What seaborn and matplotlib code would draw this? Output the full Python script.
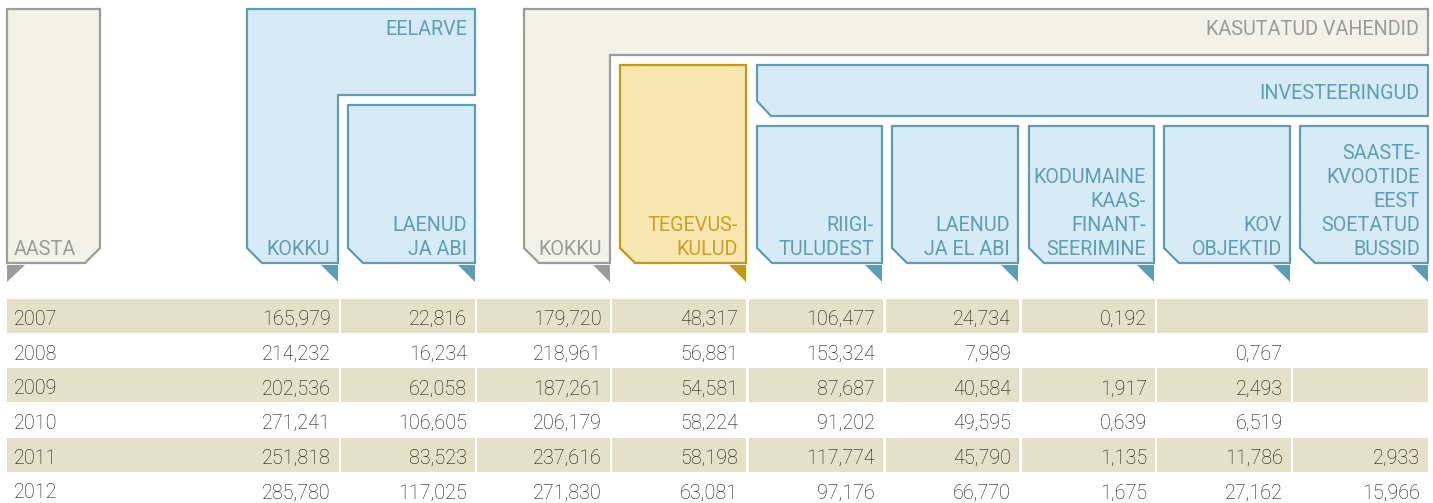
import matplotlib
matplotlib.use("Agg")
import matplotlib.pyplot as plt
from matplotlib.patches import Polygon
import seaborn as sns
import numpy as np

# ---------------- data ----------------
years = [2007, 2008, 2009, 2010, 2011, 2012]
eelarve_kokku = [165.979, 214.232, 202.536, 271.241, 251.818, 285.780]
eelarve_laenud = [22.816, 16.234, 62.058, 106.605, 83.523, 117.025]
kasutatud_kokku = [179.720, 218.961, 187.261, 206.179, 237.616, 271.830]
tegevuskulud = [48.317, 56.881, 54.581, 58.224, 58.198, 63.081]
riigituludest = [106.477, 153.324, 87.687, 91.202, 117.774, 97.176]
laenud_el_abi = [24.734, 7.989, 40.584, 49.595, 45.790, 66.770]
kaasfinantseerimine = [0.192, None, 1.917, 0.639, 1.135, 1.675]
kov_objektid = [None, 0.767, 2.493, 6.519, 11.786, 27.162]
saastekvoodid = [None, None, None, None, 2.933, 15.966]

group_labels = ["EELARVE", "KASUTATUD VAHENDID", "INVESTEERINGUD"]
col_headers = [
    ["AASTA"],
    ["KOKKU"],
    ["LAENUD", "JA ABI"],
    ["KOKKU"],
    ["TEGEVUS-", "KULUD"],
    ["RIIGI-", "TULUDEST"],
    ["LAENUD", "JA EL ABI"],
    ["KODUMAINE", "KAAS-", "FINANT-", "SEERIMINE"],
    ["KOV", "OBJEKTID"],
    ["SAASTE-", "KVOOTIDE", "EEST", "SOETATUD", "BUSSID"],
]
series = [eelarve_kokku, eelarve_laenud, kasutatud_kokku, tegevuskulud,
          riigituludest, laenud_el_abi, kaasfinantseerimine, kov_objektid,
          saastekvoodid]

# ---------------- style ----------------
sns.set_theme(style="white")
plt.rcParams["font.family"] = ["Roboto", "DejaVu Sans"]

GRAY_E, GRAY_F, GRAY_T = "#9c9c9c", "#f3f2e8", "#9a9a9a"
BLUE_E, BLUE_F, BLUE_T = "#5b9fb6", "#d6ebf5", "#5a9fb8"
GOLD_E, GOLD_F, GOLD_T = "#c39a0b", "#fae6b1", "#c9a320"
BAND = "#e5e1c9"
NUM_C = "#111111"
FS = 14.2

fig = plt.figure(figsize=(14.33, 5.03), dpi=100)
ax = fig.add_axes([0, 0, 1, 1])
ax.set_xlim(0, 1433)
ax.set_ylim(503, 0)
ax.axis("off")


def shape(pts, fc, ec):
    ax.add_patch(Polygon(pts, closed=True, facecolor=fc, edgecolor=ec,
                         linewidth=1.6, joinstyle="miter"))


def flag(xr, ec, left=False):
    if left:
        pts = [(xr, 265), (xr + 18, 265), (xr, 282)]
    else:
        pts = [(xr - 17, 265), (xr, 265), (xr, 282)]
    ax.add_patch(Polygon(pts, closed=True, facecolor=ec, edgecolor="none"))


def tab(x0, x1, top, fc, ec):
    shape([(x0, top), (x1, top), (x1, 263), (x0 + 15, 263), (x0, 248)], fc, ec)
    flag(x1, ec)


def header_text(x, lines, color, ha="right"):
    n = len(lines)
    for i, ln in enumerate(lines):
        y = 255 - (n - 1 - i) * 24
        ax.text(x, y, ln, ha=ha, va="baseline", fontsize=FS, color=color)


# AASTA
shape([(7, 9), (100, 9), (100, 248), (85, 263), (7, 263)], GRAY_F, GRAY_E)
flag(7, GRAY_E, left=True)
header_text(14, col_headers[0], GRAY_T, ha="left")

# EELARVE group
shape([(247, 9), (475, 9), (475, 95), (338, 95), (338, 263), (262, 263), (247, 248)],
      BLUE_F, BLUE_E)
flag(338, BLUE_E)
ax.text(467, 35, group_labels[0], ha="right", va="baseline", fontsize=FS, color=BLUE_T)
header_text(330, col_headers[1], BLUE_T)
tab(348, 475, 105, BLUE_F, BLUE_E)
header_text(467, col_headers[2], BLUE_T)

# KASUTATUD VAHENDID group
shape([(524, 9), (1428, 9), (1428, 55), (610, 55), (610, 263), (539, 263), (524, 248)],
      GRAY_F, GRAY_E)
flag(610, GRAY_E)
ax.text(1419, 35, group_labels[1], ha="right", va="baseline", fontsize=FS, color=GRAY_T)
header_text(602, col_headers[3], GRAY_T)

tab(620, 746, 65, GOLD_F, GOLD_E)
header_text(738, col_headers[4], GOLD_T)

# INVESTEERINGUD bar
shape([(757, 65), (1428, 65), (1428, 116), (771, 116), (757, 101)], BLUE_F, BLUE_E)
ax.text(1419, 99, group_labels[2], ha="right", va="baseline", fontsize=FS, color=BLUE_T)

inv_cols = [(757, 882), (892, 1018), (1029, 1154), (1164, 1290), (1300, 1428)]
for (x0, x1), lines in zip(inv_cols, col_headers[5:]):
    tab(x0, x1, 126, BLUE_F, BLUE_E)
    header_text(x1 - 8, lines, BLUE_T)

# ---------------- table body ----------------
band_cols = [(7, 339), (341, 475), (477, 610), (612, 746), (749, 883),
             (886, 1019), (1022, 1155), (1157, 1291), (1293, 1428)]
merged = {2007: [(7, 8)]}
row_pitch = 34.7
row0 = 318.0

for r, yr in enumerate(years):
    yc = row0 + r * row_pitch
    if r % 2 == 0:
        spans = [(c, c) for c in range(len(band_cols))]
        for a, b in merged.get(yr, []):
            spans = [s for s in spans if not (a <= s[0] <= b)] + [(a, b)]
        for a, b in spans:
            x0 = band_cols[a][0]
            x1 = band_cols[b][1]
            ax.add_patch(plt.Rectangle((x0, yc - 19), x1 - x0, 34,
                                       facecolor=BAND, edgecolor="none"))
    ax.text(14, yc + 7, str(yr), ha="left", va="baseline", fontsize=FS,
            color=NUM_C, fontweight="light")
    for c, vals in enumerate(series):
        v = vals[r]
        if v is None:
            continue
        s = f"{v:.3f}".replace(".", ",")
        ax.text(band_cols[c][1] - 8, yc + 7, s, ha="right", va="baseline",
                fontsize=FS, color=NUM_C, fontweight="light")

fig.savefig("out.png", dpi=100)
